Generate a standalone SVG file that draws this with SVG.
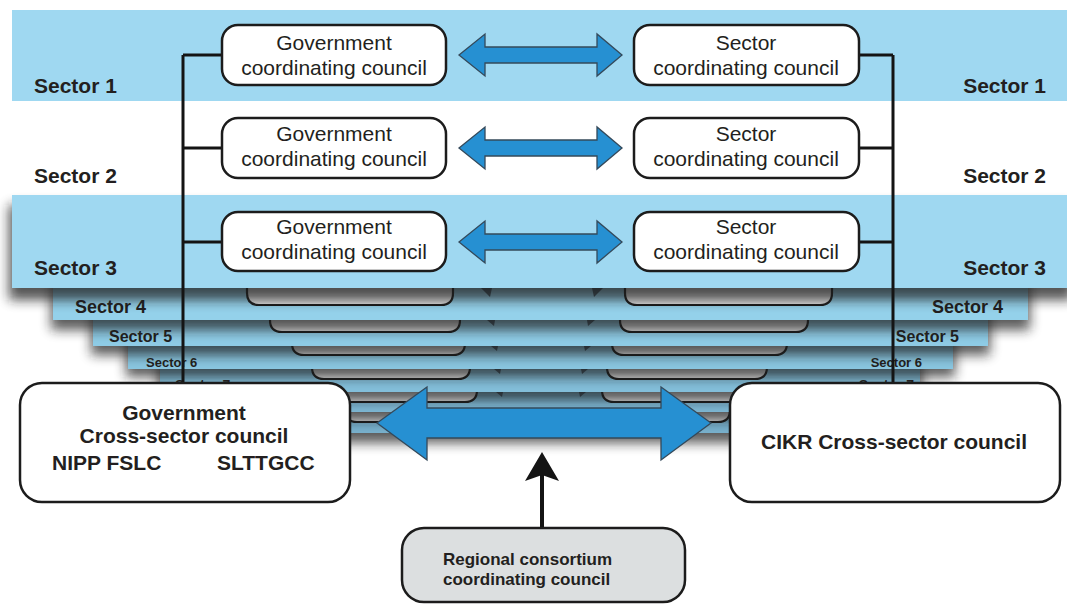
<svg xmlns="http://www.w3.org/2000/svg" width="1067" height="604" viewBox="0 0 1067 604">
  <defs>
    <style>
      .band { fill: #9fd8f1; }
      .box { fill: #ffffff; stroke: #1c1c1c; stroke-width: 2.5; }
      .sub { fill: #e2e2e2; stroke: #1c1c1c; stroke-width: 2.2; }
      .tip { fill: #3f5463; }
      .shadow { fill: #1a1a1a; filter: url(#blur); }
      .lbl { font-family: "Liberation Sans", Arial, sans-serif; font-weight: bold; fill: #231f20; }
      .txt { font-family: "Liberation Sans", Arial, sans-serif; font-size: 21px; fill: #231f20; text-anchor: middle; }
      .btxt { font-family: "Liberation Sans", Arial, sans-serif; font-size: 21px; font-weight: bold; fill: #231f20; }
      .line { fill: none; stroke: #141414; stroke-width: 3; }
      .barrow { fill: #2690d2; stroke: #34495a; stroke-width: 1.3; stroke-linejoin: miter; }
    </style>
    <filter id="blur" x="-5%" y="-60%" width="110%" height="220%">
      <feGaussianBlur stdDeviation="6"/>
    </filter>
  </defs>

  <rect width="1067" height="604" fill="#ffffff"/>

  <!-- Sector 1 and 2 backgrounds -->
  <rect class="band" x="12" y="10" width="1055" height="91"/>

  <!-- Receding stack of sectors, drawn back to front -->
  <g id="stack">
    <!-- band 9 -->
    <rect class="shadow" x="210" y="282" width="654" height="161" opacity="0.72"/>
    <rect x="212" y="280" width="650" height="153" fill="#78b0cc"/>
    <path class="sub" d="M345,395 V410 Q345,422 357,422 H472 Q484,422 484,410 V395"/>
    <path class="sub" d="M597,395 V410 Q597,422 609,422 H718 Q730,422 730,410 V395"/>

    <!-- band 8 -->
    <rect class="shadow" x="186" y="282" width="706" height="138" opacity="0.72"/>
    <rect x="188" y="280" width="702" height="132" fill="#7db6d2"/>
    <path class="sub" d="M330,375 V390 Q330,402 342,402 H465 Q477,402 477,390 V375"/>
    <path class="sub" d="M602,375 V390 Q602,402 614,402 H736 Q748,402 748,390 V375"/>
    <polygon class="tip" points="496,392 503,392 502,397"/>
    <polygon class="tip" points="579,392 586,392 580,397"/>

    <!-- band 7 -->
    <rect class="shadow" x="158" y="282" width="764" height="118" opacity="0.72"/>
    <rect x="160" y="280" width="760" height="112" fill="#83bed9"/>
    <path class="sub" d="M312,352 V367 Q312,379 324,379 H458 Q470,379 470,367 V352"/>
    <path class="sub" d="M607,352 V367 Q607,379 619,379 H755 Q767,379 767,367 V352"/>
    <polygon class="tip" points="494,369 501,369 500,374"/>
    <polygon class="tip" points="581,369 588,369 582,374"/>
    <text class="lbl" x="175" y="390" font-size="14">Sector 7</text>
    <text class="lbl" x="914" y="390" font-size="14" text-anchor="end">Sector 7</text>

    <!-- band 6 -->
    <rect class="shadow" x="126" y="282" width="829" height="95" opacity="0.72"/>
    <rect x="128" y="280" width="825" height="89" fill="#89c5df"/>
    <path class="sub" d="M292,328 V343 Q292,355 304,355 H453 Q465,355 465,343 V328"/>
    <path class="sub" d="M612,328 V343 Q612,355 624,355 H775 Q787,355 787,343 V328"/>
    <polygon class="tip" points="491,346 498,346 497,351"/>
    <polygon class="tip" points="584,346 591,346 585,351"/>
    <text class="lbl" x="146" y="367" font-size="13">Sector 6</text>
    <text class="lbl" x="922" y="367" font-size="13" text-anchor="end">Sector 6</text>

    <!-- band 5 -->
    <rect class="shadow" x="91" y="282" width="899" height="73" opacity="0.72"/>
    <rect x="93" y="280" width="895" height="66" fill="#8ecbe5"/>
    <path class="sub" d="M270,305 V320 Q270,332 282,332 H448 Q460,332 460,320 V305"/>
    <path class="sub" d="M620,305 V320 Q620,332 632,332 H796 Q808,332 808,320 V305"/>
    <polygon class="tip" points="487,320 495,320 494,326"/>
    <polygon class="tip" points="587,320 595,320 588,326"/>
    <text class="lbl" x="109" y="342" font-size="16">Sector 5</text>
    <text class="lbl" x="959" y="342" font-size="16" text-anchor="end">Sector 5</text>

    <!-- band 4 -->
    <rect class="shadow" x="51" y="282" width="979" height="48" opacity="0.72"/>
    <rect x="53" y="280" width="975" height="40" fill="#94d1ea"/>
    <path class="sub" d="M247,278 V293 Q247,305 259,305 H441 Q453,305 453,293 V278"/>
    <path class="sub" d="M625,278 V293 Q625,305 637,305 H820 Q832,305 832,293 V278"/>
    <polygon class="tip" points="481,288 492,288 490,297"/>
    <polygon class="tip" points="592,288 603,288 594,297"/>
    <text class="lbl" x="75" y="313" font-size="18">Sector 4</text>
    <text class="lbl" x="1003" y="313" font-size="18" text-anchor="end">Sector 4</text>

    <!-- band 3 -->
    <rect class="shadow" x="9" y="205" width="1064" height="95" opacity="0.75"/>
    <rect class="band" x="12" y="195" width="1055" height="93"/>
  </g>

  <!-- Sector labels -->
  <g id="labels">
    <text class="lbl" x="34" y="93" font-size="21">Sector 1</text>
    <text class="lbl" x="1046" y="93" font-size="21" text-anchor="end">Sector 1</text>
    <text class="lbl" x="34" y="183" font-size="21">Sector 2</text>
    <text class="lbl" x="1046" y="183" font-size="21" text-anchor="end">Sector 2</text>
    <text class="lbl" x="34" y="275" font-size="21">Sector 3</text>
    <text class="lbl" x="1046" y="275" font-size="21" text-anchor="end">Sector 3</text>
  </g>

  <!-- Connectors -->
  <g id="connectors">
    <path class="line" d="M183,55 V386 M183,55 H222 M183,148 H222 M183,242 H222"/>
    <path class="line" d="M893,55 V386 M859,55 H893 M859,148 H893 M859,242 H893"/>
    <polygon class="barrow" points="459,55 485,34 485,47 597,47 597,34 622,55 597,76 597,63 485,63 485,76"/>
    <polygon class="barrow" points="459,148 485,127 485,140 597,140 597,127 622,148 597,169 597,156 485,156 485,169"/>
    <polygon class="barrow" points="459,242 485,221 485,234 597,234 597,221 622,242 597,263 597,250 485,250 485,263"/>
    <polygon class="barrow" points="377,423 427,387 427,408 661,408 661,387 711,423 661,460 661,438 427,438 427,460"/>
    <line x1="542" y1="474" x2="542" y2="528" stroke="#141414" stroke-width="4"/>
    <polygon points="542,452 559,481 542,475 525,481" fill="#141414"/>
  </g>

  <!-- Sector 1 councils -->
  <g id="gcc1">
    <rect class="box" x="222" y="25" width="224" height="60" rx="16"/>
    <text class="txt" x="334" y="50">Government</text>
    <text class="txt" x="334" y="75">coordinating council</text>
  </g>
  <g id="scc1">
    <rect class="box" x="634" y="25" width="225" height="60" rx="16"/>
    <text class="txt" x="746" y="50">Sector</text>
    <text class="txt" x="746" y="75">coordinating council</text>
  </g>

  <!-- Sector 2 councils -->
  <g id="gcc2">
    <rect class="box" x="222" y="118" width="224" height="60" rx="16"/>
    <text class="txt" x="334" y="141">Government</text>
    <text class="txt" x="334" y="166">coordinating council</text>
  </g>
  <g id="scc2">
    <rect class="box" x="634" y="118" width="225" height="60" rx="16"/>
    <text class="txt" x="746" y="141">Sector</text>
    <text class="txt" x="746" y="166">coordinating council</text>
  </g>

  <!-- Sector 3 councils -->
  <g id="gcc3">
    <rect class="box" x="222" y="212" width="224" height="59" rx="16"/>
    <text class="txt" x="334" y="234">Government</text>
    <text class="txt" x="334" y="259">coordinating council</text>
  </g>
  <g id="scc3">
    <rect class="box" x="634" y="212" width="225" height="59" rx="16"/>
    <text class="txt" x="746" y="234">Sector</text>
    <text class="txt" x="746" y="259">coordinating council</text>
  </g>

  <!-- Cross-sector councils -->
  <g id="gov-cross">
    <rect class="box" x="20" y="383" width="330" height="119" rx="22"/>
    <text class="btxt" x="184" y="420" text-anchor="middle">Government</text>
    <text class="btxt" x="184" y="443" text-anchor="middle">Cross-sector council</text>
    <text class="btxt" x="52" y="470">NIPP FSLC</text>
    <text class="btxt" x="217" y="470">SLTTGCC</text>
  </g>
  <g id="cikr-cross">
    <rect class="box" x="730" y="383" width="330" height="119" rx="22"/>
    <text class="btxt" x="894" y="449" text-anchor="middle">CIKR Cross-sector council</text>
  </g>

  <!-- Regional consortium -->
  <g id="regional">
    <rect x="402" y="528" width="283" height="74" rx="22" fill="#dcdfe0" stroke="#1c1c1c" stroke-width="2.5"/>
    <text class="lbl" x="443" y="565" font-size="17">Regional consortium</text>
    <text class="lbl" x="443" y="585" font-size="17">coordinating council</text>
  </g>
</svg>
